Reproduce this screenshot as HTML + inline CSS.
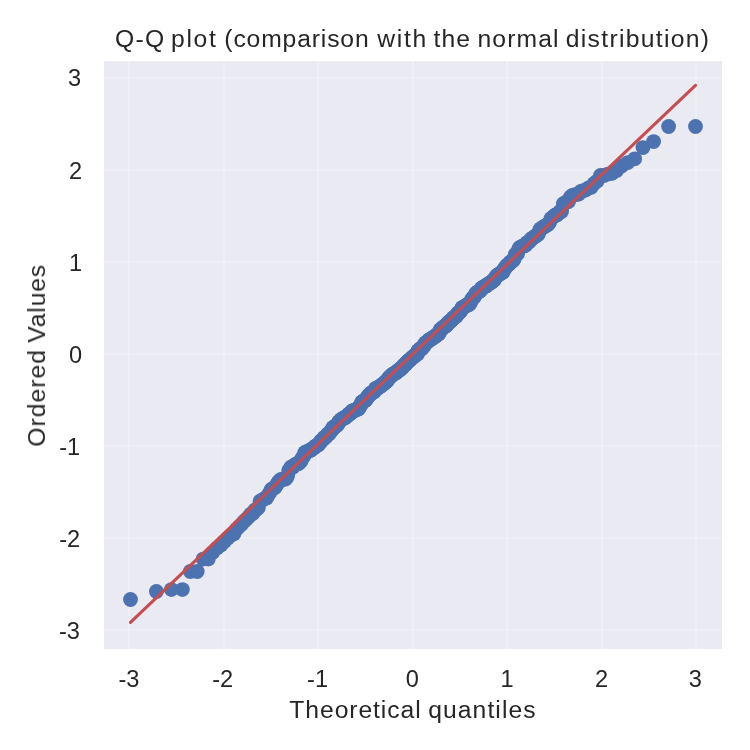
<!DOCTYPE html>
<html lang="en"><head><meta charset="utf-8"><title>Q-Q plot</title>
<style>
html,body{margin:0;padding:0;background:#fff;}
body{width:750px;height:750px;overflow:hidden;font-family:'Liberation Sans','Noto Sans CJK JP',sans-serif;}
svg{display:block;font-family:'Liberation Sans','Noto Sans CJK JP',sans-serif;}
</style></head><body>
<svg width="750" height="750" viewBox="0 0 750 750">
<rect width="750" height="750" fill="#ffffff"/>
<rect x="104" y="61" width="618" height="588" fill="#eaeaf2"/>
<g fill="#ffffff" fill-opacity="0.23"><rect x="128" y="61" width="2" height="588"/><rect x="223" y="61" width="2" height="588"/><rect x="317" y="61" width="2" height="588"/><rect x="412" y="61" width="2" height="588"/><rect x="506" y="61" width="2" height="588"/><rect x="601" y="61" width="2" height="588"/><rect x="695" y="61" width="2" height="588"/><rect x="104" y="77" width="618" height="2"/><rect x="104" y="169" width="618" height="2"/><rect x="104" y="261" width="618" height="2"/><rect x="104" y="353" width="618" height="2"/><rect x="104" y="445" width="618" height="2"/><rect x="104" y="537" width="618" height="2"/><rect x="104" y="629" width="618" height="2"/></g>
<g fill="#4c72b0"><circle cx="130.5" cy="599.5" r="7.4"/><circle cx="156.4" cy="591.5" r="7.4"/><circle cx="171.4" cy="589.6" r="7.4"/><circle cx="182.4" cy="589.6" r="7.4"/><circle cx="190.3" cy="571.5" r="7.4"/><circle cx="197.2" cy="571.5" r="7.4"/><circle cx="203.1" cy="559.1" r="7.4"/><circle cx="208.3" cy="559.1" r="7.4"/><circle cx="212.9" cy="552.3" r="7.4"/><circle cx="217.1" cy="548.1" r="7.4"/><circle cx="221.0" cy="545.0" r="7.4"/><circle cx="224.5" cy="541.6" r="7.4"/><circle cx="227.8" cy="538.0" r="7.4"/><circle cx="230.9" cy="535.2" r="7.4"/><circle cx="233.8" cy="534.1" r="7.4"/><circle cx="236.6" cy="529.1" r="7.4"/><circle cx="239.2" cy="526.5" r="7.4"/><circle cx="241.7" cy="524.0" r="7.4"/><circle cx="244.1" cy="521.3" r="7.4"/><circle cx="246.3" cy="519.3" r="7.4"/><circle cx="248.5" cy="517.0" r="7.4"/><circle cx="250.6" cy="514.2" r="7.4"/><circle cx="252.6" cy="513.8" r="7.4"/><circle cx="254.6" cy="510.2" r="7.4"/><circle cx="256.4" cy="509.5" r="7.4"/><circle cx="258.3" cy="507.8" r="7.4"/><circle cx="260.0" cy="501.2" r="7.4"/><circle cx="261.7" cy="500.4" r="7.4"/><circle cx="263.4" cy="499.3" r="7.4"/><circle cx="265.0" cy="498.3" r="7.4"/><circle cx="266.6" cy="497.9" r="7.4"/><circle cx="268.2" cy="495.0" r="7.4"/><circle cx="269.7" cy="492.7" r="7.4"/><circle cx="271.1" cy="489.7" r="7.4"/><circle cx="272.6" cy="488.6" r="7.4"/><circle cx="274.0" cy="488.1" r="7.4"/><circle cx="275.3" cy="487.3" r="7.4"/><circle cx="276.7" cy="484.7" r="7.4"/><circle cx="278.0" cy="482.5" r="7.4"/><circle cx="279.3" cy="480.9" r="7.4"/><circle cx="280.5" cy="479.7" r="7.4"/><circle cx="281.8" cy="479.5" r="7.4"/><circle cx="283.0" cy="479.3" r="7.4"/><circle cx="284.2" cy="479.1" r="7.4"/><circle cx="285.4" cy="479.0" r="7.4"/><circle cx="286.6" cy="477.7" r="7.4"/><circle cx="287.7" cy="475.6" r="7.4"/><circle cx="288.8" cy="470.3" r="7.4"/><circle cx="289.9" cy="469.5" r="7.4"/><circle cx="291.0" cy="467.1" r="7.4"/><circle cx="292.1" cy="467.0" r="7.4"/><circle cx="293.1" cy="467.0" r="7.4"/><circle cx="294.2" cy="465.6" r="7.4"/><circle cx="295.2" cy="464.6" r="7.4"/><circle cx="296.2" cy="464.1" r="7.4"/><circle cx="297.2" cy="463.7" r="7.4"/><circle cx="298.2" cy="463.7" r="7.4"/><circle cx="299.2" cy="463.1" r="7.4"/><circle cx="300.2" cy="461.1" r="7.4"/><circle cx="301.1" cy="461.1" r="7.4"/><circle cx="302.1" cy="457.9" r="7.4"/><circle cx="303.0" cy="456.9" r="7.4"/><circle cx="303.9" cy="455.9" r="7.4"/><circle cx="304.8" cy="452.5" r="7.4"/><circle cx="305.7" cy="452.4" r="7.4"/><circle cx="306.6" cy="452.3" r="7.4"/><circle cx="307.5" cy="451.3" r="7.4"/><circle cx="308.4" cy="451.1" r="7.4"/><circle cx="309.2" cy="450.7" r="7.4"/><circle cx="310.1" cy="450.2" r="7.4"/><circle cx="310.9" cy="450.0" r="7.4"/><circle cx="311.8" cy="449.5" r="7.4"/><circle cx="312.6" cy="448.6" r="7.4"/><circle cx="313.4" cy="448.0" r="7.4"/><circle cx="314.3" cy="447.2" r="7.4"/><circle cx="315.1" cy="446.9" r="7.4"/><circle cx="315.9" cy="445.8" r="7.4"/><circle cx="316.7" cy="445.6" r="7.4"/><circle cx="317.4" cy="445.1" r="7.4"/><circle cx="318.2" cy="444.9" r="7.4"/><circle cx="319.0" cy="443.7" r="7.4"/><circle cx="319.8" cy="443.1" r="7.4"/><circle cx="320.5" cy="441.2" r="7.4"/><circle cx="321.3" cy="440.9" r="7.4"/><circle cx="322.0" cy="440.3" r="7.4"/><circle cx="322.8" cy="439.2" r="7.4"/><circle cx="323.5" cy="439.0" r="7.4"/><circle cx="324.3" cy="437.6" r="7.4"/><circle cx="325.0" cy="437.6" r="7.4"/><circle cx="325.7" cy="436.6" r="7.4"/><circle cx="326.4" cy="436.5" r="7.4"/><circle cx="327.2" cy="434.8" r="7.4"/><circle cx="327.9" cy="434.0" r="7.4"/><circle cx="328.6" cy="434.0" r="7.4"/><circle cx="329.3" cy="433.4" r="7.4"/><circle cx="330.0" cy="432.2" r="7.4"/><circle cx="330.7" cy="431.5" r="7.4"/><circle cx="331.3" cy="430.7" r="7.4"/><circle cx="332.0" cy="430.1" r="7.4"/><circle cx="332.7" cy="427.7" r="7.4"/><circle cx="333.4" cy="427.4" r="7.4"/><circle cx="334.0" cy="427.4" r="7.4"/><circle cx="334.7" cy="426.7" r="7.4"/><circle cx="335.4" cy="426.6" r="7.4"/><circle cx="336.0" cy="425.8" r="7.4"/><circle cx="336.7" cy="425.4" r="7.4"/><circle cx="337.3" cy="424.9" r="7.4"/><circle cx="338.0" cy="423.9" r="7.4"/><circle cx="338.6" cy="422.1" r="7.4"/><circle cx="339.3" cy="421.6" r="7.4"/><circle cx="339.9" cy="421.2" r="7.4"/><circle cx="340.5" cy="419.9" r="7.4"/><circle cx="341.2" cy="419.7" r="7.4"/><circle cx="341.8" cy="419.4" r="7.4"/><circle cx="342.4" cy="418.8" r="7.4"/><circle cx="343.1" cy="418.2" r="7.4"/><circle cx="343.7" cy="418.1" r="7.4"/><circle cx="344.3" cy="418.0" r="7.4"/><circle cx="344.9" cy="417.7" r="7.4"/><circle cx="345.5" cy="417.6" r="7.4"/><circle cx="346.1" cy="416.6" r="7.4"/><circle cx="346.7" cy="416.3" r="7.4"/><circle cx="347.3" cy="415.9" r="7.4"/><circle cx="347.9" cy="415.3" r="7.4"/><circle cx="348.5" cy="414.3" r="7.4"/><circle cx="349.1" cy="414.2" r="7.4"/><circle cx="349.7" cy="413.5" r="7.4"/><circle cx="350.3" cy="413.4" r="7.4"/><circle cx="350.9" cy="412.9" r="7.4"/><circle cx="351.5" cy="412.6" r="7.4"/><circle cx="352.0" cy="410.9" r="7.4"/><circle cx="352.6" cy="410.9" r="7.4"/><circle cx="353.2" cy="410.9" r="7.4"/><circle cx="353.8" cy="410.6" r="7.4"/><circle cx="354.4" cy="410.5" r="7.4"/><circle cx="354.9" cy="410.3" r="7.4"/><circle cx="355.5" cy="410.1" r="7.4"/><circle cx="356.1" cy="409.5" r="7.4"/><circle cx="356.6" cy="409.2" r="7.4"/><circle cx="357.2" cy="409.1" r="7.4"/><circle cx="357.7" cy="409.0" r="7.4"/><circle cx="358.3" cy="409.0" r="7.4"/><circle cx="358.9" cy="408.4" r="7.4"/><circle cx="359.4" cy="407.4" r="7.4"/><circle cx="360.0" cy="406.1" r="7.4"/><circle cx="360.5" cy="405.1" r="7.4"/><circle cx="361.1" cy="404.8" r="7.4"/><circle cx="361.6" cy="402.5" r="7.4"/><circle cx="362.2" cy="401.7" r="7.4"/><circle cx="362.7" cy="401.5" r="7.4"/><circle cx="363.3" cy="401.5" r="7.4"/><circle cx="363.8" cy="401.1" r="7.4"/><circle cx="364.3" cy="400.7" r="7.4"/><circle cx="364.9" cy="400.7" r="7.4"/><circle cx="365.4" cy="400.0" r="7.4"/><circle cx="365.9" cy="400.0" r="7.4"/><circle cx="366.5" cy="398.8" r="7.4"/><circle cx="367.0" cy="397.7" r="7.4"/><circle cx="367.5" cy="397.2" r="7.4"/><circle cx="368.1" cy="396.1" r="7.4"/><circle cx="368.6" cy="396.0" r="7.4"/><circle cx="369.1" cy="395.5" r="7.4"/><circle cx="369.7" cy="394.5" r="7.4"/><circle cx="370.2" cy="394.5" r="7.4"/><circle cx="370.7" cy="393.4" r="7.4"/><circle cx="371.2" cy="392.8" r="7.4"/><circle cx="371.7" cy="392.8" r="7.4"/><circle cx="372.3" cy="392.4" r="7.4"/><circle cx="372.8" cy="392.2" r="7.4"/><circle cx="373.3" cy="392.2" r="7.4"/><circle cx="373.8" cy="391.5" r="7.4"/><circle cx="374.3" cy="391.3" r="7.4"/><circle cx="374.8" cy="390.9" r="7.4"/><circle cx="375.3" cy="388.7" r="7.4"/><circle cx="375.9" cy="388.6" r="7.4"/><circle cx="376.4" cy="388.3" r="7.4"/><circle cx="376.9" cy="388.2" r="7.4"/><circle cx="377.4" cy="388.1" r="7.4"/><circle cx="377.9" cy="387.9" r="7.4"/><circle cx="378.4" cy="387.2" r="7.4"/><circle cx="378.9" cy="387.1" r="7.4"/><circle cx="379.4" cy="387.1" r="7.4"/><circle cx="379.9" cy="386.3" r="7.4"/><circle cx="380.4" cy="386.1" r="7.4"/><circle cx="380.9" cy="386.0" r="7.4"/><circle cx="381.4" cy="385.2" r="7.4"/><circle cx="381.9" cy="385.1" r="7.4"/><circle cx="382.4" cy="384.8" r="7.4"/><circle cx="382.9" cy="384.2" r="7.4"/><circle cx="383.4" cy="383.7" r="7.4"/><circle cx="383.9" cy="383.4" r="7.4"/><circle cx="384.4" cy="383.0" r="7.4"/><circle cx="384.9" cy="382.7" r="7.4"/><circle cx="385.4" cy="382.1" r="7.4"/><circle cx="385.9" cy="381.7" r="7.4"/><circle cx="386.4" cy="381.4" r="7.4"/><circle cx="386.9" cy="380.9" r="7.4"/><circle cx="387.4" cy="380.3" r="7.4"/><circle cx="387.8" cy="379.7" r="7.4"/><circle cx="388.3" cy="378.7" r="7.4"/><circle cx="388.8" cy="378.1" r="7.4"/><circle cx="389.3" cy="377.2" r="7.4"/><circle cx="389.8" cy="377.0" r="7.4"/><circle cx="390.3" cy="376.8" r="7.4"/><circle cx="390.8" cy="376.5" r="7.4"/><circle cx="391.3" cy="375.8" r="7.4"/><circle cx="391.7" cy="374.9" r="7.4"/><circle cx="392.2" cy="374.7" r="7.4"/><circle cx="392.7" cy="374.6" r="7.4"/><circle cx="393.2" cy="374.5" r="7.4"/><circle cx="393.7" cy="373.8" r="7.4"/><circle cx="394.2" cy="373.6" r="7.4"/><circle cx="394.6" cy="373.3" r="7.4"/><circle cx="395.1" cy="373.1" r="7.4"/><circle cx="395.6" cy="372.8" r="7.4"/><circle cx="396.1" cy="372.7" r="7.4"/><circle cx="396.6" cy="372.4" r="7.4"/><circle cx="397.0" cy="371.6" r="7.4"/><circle cx="397.5" cy="371.2" r="7.4"/><circle cx="398.0" cy="370.7" r="7.4"/><circle cx="398.5" cy="370.6" r="7.4"/><circle cx="399.0" cy="370.4" r="7.4"/><circle cx="399.4" cy="369.7" r="7.4"/><circle cx="399.9" cy="369.6" r="7.4"/><circle cx="400.4" cy="369.4" r="7.4"/><circle cx="400.9" cy="368.6" r="7.4"/><circle cx="401.3" cy="367.9" r="7.4"/><circle cx="401.8" cy="367.8" r="7.4"/><circle cx="402.3" cy="367.7" r="7.4"/><circle cx="402.8" cy="366.9" r="7.4"/><circle cx="403.3" cy="366.4" r="7.4"/><circle cx="403.7" cy="365.8" r="7.4"/><circle cx="404.2" cy="365.6" r="7.4"/><circle cx="404.7" cy="364.6" r="7.4"/><circle cx="405.2" cy="364.4" r="7.4"/><circle cx="405.6" cy="364.0" r="7.4"/><circle cx="406.1" cy="363.9" r="7.4"/><circle cx="406.6" cy="362.6" r="7.4"/><circle cx="407.1" cy="362.3" r="7.4"/><circle cx="407.5" cy="361.9" r="7.4"/><circle cx="408.0" cy="361.0" r="7.4"/><circle cx="408.5" cy="360.9" r="7.4"/><circle cx="408.9" cy="360.7" r="7.4"/><circle cx="409.4" cy="360.1" r="7.4"/><circle cx="409.9" cy="360.0" r="7.4"/><circle cx="410.4" cy="359.5" r="7.4"/><circle cx="410.8" cy="359.2" r="7.4"/><circle cx="411.3" cy="358.7" r="7.4"/><circle cx="411.8" cy="358.0" r="7.4"/><circle cx="412.3" cy="357.6" r="7.4"/><circle cx="412.7" cy="357.2" r="7.4"/><circle cx="413.2" cy="357.1" r="7.4"/><circle cx="413.7" cy="356.5" r="7.4"/><circle cx="414.2" cy="356.5" r="7.4"/><circle cx="414.6" cy="355.3" r="7.4"/><circle cx="415.1" cy="355.3" r="7.4"/><circle cx="415.6" cy="354.8" r="7.4"/><circle cx="416.1" cy="354.7" r="7.4"/><circle cx="416.5" cy="354.0" r="7.4"/><circle cx="417.0" cy="353.9" r="7.4"/><circle cx="417.5" cy="353.9" r="7.4"/><circle cx="417.9" cy="351.0" r="7.4"/><circle cx="418.4" cy="350.6" r="7.4"/><circle cx="418.9" cy="350.5" r="7.4"/><circle cx="419.4" cy="349.9" r="7.4"/><circle cx="419.8" cy="349.1" r="7.4"/><circle cx="420.3" cy="348.9" r="7.4"/><circle cx="420.8" cy="348.7" r="7.4"/><circle cx="421.3" cy="348.6" r="7.4"/><circle cx="421.7" cy="348.4" r="7.4"/><circle cx="422.2" cy="348.4" r="7.4"/><circle cx="422.7" cy="347.5" r="7.4"/><circle cx="423.2" cy="346.6" r="7.4"/><circle cx="423.7" cy="346.0" r="7.4"/><circle cx="424.1" cy="345.9" r="7.4"/><circle cx="424.6" cy="344.6" r="7.4"/><circle cx="425.1" cy="343.8" r="7.4"/><circle cx="425.6" cy="342.8" r="7.4"/><circle cx="426.0" cy="342.7" r="7.4"/><circle cx="426.5" cy="342.5" r="7.4"/><circle cx="427.0" cy="342.0" r="7.4"/><circle cx="427.5" cy="341.7" r="7.4"/><circle cx="428.0" cy="341.2" r="7.4"/><circle cx="428.4" cy="341.1" r="7.4"/><circle cx="428.9" cy="339.9" r="7.4"/><circle cx="429.4" cy="339.9" r="7.4"/><circle cx="429.9" cy="339.6" r="7.4"/><circle cx="430.4" cy="339.3" r="7.4"/><circle cx="430.8" cy="338.9" r="7.4"/><circle cx="431.3" cy="338.7" r="7.4"/><circle cx="431.8" cy="338.6" r="7.4"/><circle cx="432.3" cy="338.5" r="7.4"/><circle cx="432.8" cy="338.1" r="7.4"/><circle cx="433.3" cy="337.5" r="7.4"/><circle cx="433.7" cy="337.1" r="7.4"/><circle cx="434.2" cy="336.8" r="7.4"/><circle cx="434.7" cy="336.6" r="7.4"/><circle cx="435.2" cy="336.4" r="7.4"/><circle cx="435.7" cy="336.0" r="7.4"/><circle cx="436.2" cy="335.5" r="7.4"/><circle cx="436.7" cy="335.2" r="7.4"/><circle cx="437.2" cy="334.5" r="7.4"/><circle cx="437.6" cy="334.1" r="7.4"/><circle cx="438.1" cy="334.0" r="7.4"/><circle cx="438.6" cy="333.9" r="7.4"/><circle cx="439.1" cy="333.3" r="7.4"/><circle cx="439.6" cy="332.1" r="7.4"/><circle cx="440.1" cy="330.0" r="7.4"/><circle cx="440.6" cy="329.6" r="7.4"/><circle cx="441.1" cy="329.4" r="7.4"/><circle cx="441.6" cy="329.2" r="7.4"/><circle cx="442.1" cy="328.2" r="7.4"/><circle cx="442.6" cy="328.1" r="7.4"/><circle cx="443.1" cy="327.4" r="7.4"/><circle cx="443.6" cy="327.0" r="7.4"/><circle cx="444.1" cy="327.0" r="7.4"/><circle cx="444.6" cy="326.5" r="7.4"/><circle cx="445.1" cy="325.9" r="7.4"/><circle cx="445.6" cy="325.8" r="7.4"/><circle cx="446.1" cy="325.8" r="7.4"/><circle cx="446.6" cy="325.2" r="7.4"/><circle cx="447.1" cy="324.4" r="7.4"/><circle cx="447.6" cy="323.2" r="7.4"/><circle cx="448.1" cy="323.0" r="7.4"/><circle cx="448.6" cy="322.7" r="7.4"/><circle cx="449.1" cy="322.4" r="7.4"/><circle cx="449.7" cy="321.6" r="7.4"/><circle cx="450.2" cy="321.4" r="7.4"/><circle cx="450.7" cy="320.7" r="7.4"/><circle cx="451.2" cy="320.6" r="7.4"/><circle cx="451.7" cy="319.9" r="7.4"/><circle cx="452.2" cy="319.5" r="7.4"/><circle cx="452.7" cy="319.2" r="7.4"/><circle cx="453.3" cy="317.7" r="7.4"/><circle cx="453.8" cy="317.6" r="7.4"/><circle cx="454.3" cy="317.4" r="7.4"/><circle cx="454.8" cy="317.2" r="7.4"/><circle cx="455.3" cy="316.4" r="7.4"/><circle cx="455.9" cy="316.3" r="7.4"/><circle cx="456.4" cy="316.2" r="7.4"/><circle cx="456.9" cy="314.4" r="7.4"/><circle cx="457.5" cy="313.7" r="7.4"/><circle cx="458.0" cy="313.0" r="7.4"/><circle cx="458.5" cy="312.9" r="7.4"/><circle cx="459.1" cy="312.5" r="7.4"/><circle cx="459.6" cy="311.9" r="7.4"/><circle cx="460.1" cy="311.7" r="7.4"/><circle cx="460.7" cy="311.1" r="7.4"/><circle cx="461.2" cy="310.0" r="7.4"/><circle cx="461.7" cy="308.2" r="7.4"/><circle cx="462.3" cy="307.6" r="7.4"/><circle cx="462.8" cy="307.3" r="7.4"/><circle cx="463.4" cy="307.3" r="7.4"/><circle cx="463.9" cy="307.3" r="7.4"/><circle cx="464.5" cy="306.8" r="7.4"/><circle cx="465.0" cy="306.6" r="7.4"/><circle cx="465.6" cy="306.1" r="7.4"/><circle cx="466.1" cy="305.2" r="7.4"/><circle cx="466.7" cy="305.1" r="7.4"/><circle cx="467.3" cy="304.9" r="7.4"/><circle cx="467.8" cy="304.9" r="7.4"/><circle cx="468.4" cy="304.3" r="7.4"/><circle cx="468.9" cy="304.3" r="7.4"/><circle cx="469.5" cy="304.3" r="7.4"/><circle cx="470.1" cy="303.0" r="7.4"/><circle cx="470.6" cy="302.6" r="7.4"/><circle cx="471.2" cy="300.2" r="7.4"/><circle cx="471.8" cy="299.5" r="7.4"/><circle cx="472.4" cy="298.3" r="7.4"/><circle cx="473.0" cy="298.1" r="7.4"/><circle cx="473.5" cy="297.5" r="7.4"/><circle cx="474.1" cy="297.3" r="7.4"/><circle cx="474.7" cy="296.3" r="7.4"/><circle cx="475.3" cy="294.3" r="7.4"/><circle cx="475.9" cy="293.2" r="7.4"/><circle cx="476.5" cy="293.2" r="7.4"/><circle cx="477.1" cy="292.8" r="7.4"/><circle cx="477.7" cy="292.3" r="7.4"/><circle cx="478.3" cy="291.6" r="7.4"/><circle cx="478.9" cy="291.4" r="7.4"/><circle cx="479.5" cy="291.2" r="7.4"/><circle cx="480.1" cy="291.1" r="7.4"/><circle cx="480.7" cy="290.3" r="7.4"/><circle cx="481.3" cy="288.4" r="7.4"/><circle cx="481.9" cy="287.9" r="7.4"/><circle cx="482.6" cy="287.7" r="7.4"/><circle cx="483.2" cy="287.3" r="7.4"/><circle cx="483.8" cy="287.0" r="7.4"/><circle cx="484.5" cy="286.5" r="7.4"/><circle cx="485.1" cy="286.3" r="7.4"/><circle cx="485.7" cy="286.1" r="7.4"/><circle cx="486.4" cy="285.9" r="7.4"/><circle cx="487.0" cy="284.8" r="7.4"/><circle cx="487.7" cy="284.4" r="7.4"/><circle cx="488.3" cy="283.9" r="7.4"/><circle cx="489.0" cy="283.6" r="7.4"/><circle cx="489.6" cy="283.3" r="7.4"/><circle cx="490.3" cy="282.7" r="7.4"/><circle cx="491.0" cy="282.5" r="7.4"/><circle cx="491.6" cy="281.7" r="7.4"/><circle cx="492.3" cy="281.4" r="7.4"/><circle cx="493.0" cy="280.8" r="7.4"/><circle cx="493.7" cy="280.2" r="7.4"/><circle cx="494.3" cy="279.9" r="7.4"/><circle cx="495.0" cy="278.0" r="7.4"/><circle cx="495.7" cy="277.0" r="7.4"/><circle cx="496.4" cy="276.3" r="7.4"/><circle cx="497.1" cy="275.3" r="7.4"/><circle cx="497.8" cy="274.9" r="7.4"/><circle cx="498.6" cy="274.4" r="7.4"/><circle cx="499.3" cy="274.4" r="7.4"/><circle cx="500.0" cy="273.6" r="7.4"/><circle cx="500.7" cy="273.2" r="7.4"/><circle cx="501.5" cy="272.3" r="7.4"/><circle cx="502.2" cy="272.2" r="7.4"/><circle cx="503.0" cy="272.2" r="7.4"/><circle cx="503.7" cy="269.5" r="7.4"/><circle cx="504.5" cy="269.4" r="7.4"/><circle cx="505.2" cy="267.5" r="7.4"/><circle cx="506.0" cy="266.9" r="7.4"/><circle cx="506.8" cy="265.6" r="7.4"/><circle cx="507.6" cy="264.9" r="7.4"/><circle cx="508.3" cy="264.3" r="7.4"/><circle cx="509.1" cy="264.2" r="7.4"/><circle cx="509.9" cy="262.3" r="7.4"/><circle cx="510.7" cy="262.2" r="7.4"/><circle cx="511.6" cy="261.2" r="7.4"/><circle cx="512.4" cy="260.7" r="7.4"/><circle cx="513.2" cy="260.5" r="7.4"/><circle cx="514.1" cy="259.3" r="7.4"/><circle cx="514.9" cy="255.2" r="7.4"/><circle cx="515.8" cy="254.0" r="7.4"/><circle cx="516.6" cy="254.0" r="7.4"/><circle cx="517.5" cy="253.8" r="7.4"/><circle cx="518.4" cy="250.1" r="7.4"/><circle cx="519.3" cy="247.9" r="7.4"/><circle cx="520.2" cy="247.3" r="7.4"/><circle cx="521.1" cy="247.3" r="7.4"/><circle cx="522.0" cy="246.3" r="7.4"/><circle cx="522.9" cy="246.0" r="7.4"/><circle cx="523.9" cy="245.9" r="7.4"/><circle cx="524.8" cy="245.6" r="7.4"/><circle cx="525.8" cy="244.9" r="7.4"/><circle cx="526.8" cy="242.8" r="7.4"/><circle cx="527.8" cy="242.5" r="7.4"/><circle cx="528.8" cy="242.0" r="7.4"/><circle cx="529.8" cy="241.1" r="7.4"/><circle cx="530.8" cy="239.4" r="7.4"/><circle cx="531.9" cy="238.6" r="7.4"/><circle cx="532.9" cy="237.8" r="7.4"/><circle cx="534.0" cy="237.2" r="7.4"/><circle cx="535.1" cy="236.3" r="7.4"/><circle cx="536.2" cy="235.5" r="7.4"/><circle cx="537.3" cy="235.0" r="7.4"/><circle cx="538.4" cy="234.0" r="7.4"/><circle cx="539.6" cy="229.9" r="7.4"/><circle cx="540.8" cy="228.6" r="7.4"/><circle cx="542.0" cy="228.2" r="7.4"/><circle cx="543.2" cy="227.0" r="7.4"/><circle cx="544.5" cy="226.5" r="7.4"/><circle cx="545.7" cy="225.7" r="7.4"/><circle cx="547.0" cy="225.0" r="7.4"/><circle cx="548.3" cy="224.2" r="7.4"/><circle cx="549.7" cy="222.2" r="7.4"/><circle cx="551.0" cy="218.4" r="7.4"/><circle cx="552.4" cy="217.7" r="7.4"/><circle cx="553.9" cy="216.2" r="7.4"/><circle cx="555.3" cy="215.0" r="7.4"/><circle cx="556.8" cy="215.0" r="7.4"/><circle cx="558.4" cy="213.5" r="7.4"/><circle cx="560.0" cy="211.5" r="7.4"/><circle cx="561.6" cy="211.5" r="7.4"/><circle cx="563.3" cy="203.8" r="7.4"/><circle cx="565.0" cy="202.7" r="7.4"/><circle cx="566.7" cy="202.0" r="7.4"/><circle cx="568.6" cy="201.6" r="7.4"/><circle cx="570.4" cy="197.1" r="7.4"/><circle cx="572.4" cy="195.3" r="7.4"/><circle cx="574.4" cy="194.8" r="7.4"/><circle cx="576.5" cy="194.4" r="7.4"/><circle cx="578.7" cy="194.1" r="7.4"/><circle cx="580.9" cy="191.3" r="7.4"/><circle cx="583.3" cy="190.7" r="7.4"/><circle cx="585.8" cy="189.8" r="7.4"/><circle cx="588.4" cy="188.0" r="7.4"/><circle cx="591.2" cy="187.3" r="7.4"/><circle cx="594.1" cy="183.4" r="7.4"/><circle cx="597.2" cy="181.0" r="7.4"/><circle cx="600.5" cy="175.5" r="7.4"/><circle cx="604.0" cy="175.5" r="7.4"/><circle cx="607.9" cy="174.1" r="7.4"/><circle cx="612.1" cy="173.3" r="7.4"/><circle cx="616.7" cy="170.6" r="7.4"/><circle cx="621.9" cy="165.8" r="7.4"/><circle cx="627.8" cy="162.6" r="7.4"/><circle cx="634.7" cy="158.8" r="7.4"/><circle cx="643.0" cy="147.6" r="7.4"/><circle cx="653.6" cy="141.6" r="7.4"/><circle cx="668.6" cy="126.5" r="7.4"/><circle cx="695.5" cy="126.5" r="7.4"/></g>
<line x1="130.5" y1="622.3" x2="695.5" y2="85.3" stroke="#c44e52" stroke-width="3.125" stroke-linecap="round"/>
<g fill="#262626" style="will-change:opacity" opacity="0.999"><g font-size="23.6"><text x="129" y="687" text-anchor="middle">-3</text><text x="222.7" y="687" text-anchor="middle">-2</text><text x="317.6" y="687" text-anchor="middle">-1</text><text x="412.2" y="687" text-anchor="middle">0</text><text x="507" y="687" text-anchor="middle">1</text><text x="601.5" y="687" text-anchor="middle">2</text><text x="695.2" y="687" text-anchor="middle">3</text><text x="81.0" y="85.8" text-anchor="end">3</text><text x="82.2" y="179" text-anchor="end">2</text><text x="82.2" y="271" text-anchor="end">1</text><text x="82.2" y="362.8" text-anchor="end">0</text><text x="80.2" y="455" text-anchor="end">-1</text><text x="80.2" y="547" text-anchor="end">-2</text><text x="80.0" y="638.8" text-anchor="end">-3</text></g>
<g font-size="24.7"><text y="47" xml:space="preserve"><tspan x="115.08" textLength="49.22" lengthAdjust="spacing">Q-Q</tspan> <tspan x="170.93" textLength="44.98" lengthAdjust="spacing">plot</tspan> <tspan x="224.36" textLength="144.29" lengthAdjust="spacing">(comparison</tspan> <tspan x="377.19" textLength="49.01" lengthAdjust="spacing">with</tspan> <tspan x="433.61" textLength="36.29" lengthAdjust="spacing">the</tspan> <tspan x="477.41" textLength="81.19" lengthAdjust="spacing">normal</tspan> <tspan x="565.75" textLength="143.28" lengthAdjust="spacing">distribution)</tspan></text><text y="718" xml:space="preserve"><tspan x="289.31" textLength="131.39" lengthAdjust="spacing">Theoretical</tspan> <tspan x="428.19" textLength="107.46" lengthAdjust="spacing">quantiles</tspan></text><g transform="translate(45 445.5) rotate(-90)"><text xml:space="preserve"><tspan x="-1.24" textLength="96.62" lengthAdjust="spacing">Ordered</tspan> <tspan x="102.87" textLength="77.67" lengthAdjust="spacing">Values</tspan></text></g></g></g>
</svg>
</body></html>
